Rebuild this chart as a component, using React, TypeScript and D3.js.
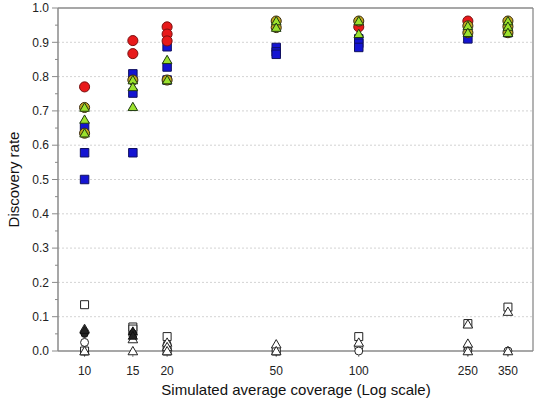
import React from "react";
import * as d3 from "d3";

const xTicks = [10, 15, 20, 50, 100, 250, 350];
const yTicks = [0, 0.1, 0.2, 0.3, 0.4, 0.5, 0.6, 0.7, 0.8, 0.9, 1.0];
const yMinorTicks = [0.05, 0.15, 0.25, 0.35, 0.45, 0.55, 0.65, 0.75, 0.85, 0.95];

// [coverage, discovery rate]
const blueSquares: [number, number][] = [
  [10, 0.655], [10, 0.578], [10, 0.5],
  [15, 0.808], [15, 0.752], [15, 0.578],
  [20, 0.887], [20, 0.828], [20, 0.79],
  [50, 0.885], [50, 0.872], [50, 0.865],
  [100, 0.91], [100, 0.897], [100, 0.885],
  [250, 0.91], [350, 0.928],
];
const redCircles: [number, number][] = [
  [10, 0.77],
  [15, 0.905], [15, 0.867],
  [20, 0.945], [20, 0.924], [20, 0.904],
  [100, 0.945],
  [250, 0.962],
];
const oliveCircles: [number, number][] = [
  [10, 0.71], [10, 0.635],
  [15, 0.79], [20, 0.79],
  [50, 0.962], [50, 0.943],
  [100, 0.962],
  [250, 0.948], [250, 0.928],
  [350, 0.962], [350, 0.946], [350, 0.928],
];
const greenTriangles: [number, number][] = [
  [10, 0.71], [10, 0.675], [10, 0.635],
  [15, 0.79], [15, 0.77], [15, 0.712],
  [20, 0.849], [20, 0.79],
  [50, 0.962], [50, 0.943],
  [100, 0.962], [100, 0.925],
  [250, 0.948], [250, 0.928],
  [350, 0.962], [350, 0.946], [350, 0.928],
];
const openSquares: [number, number][] = [
  [10, 0.135], [10, 0.0],
  [15, 0.07], [15, 0.064],
  [20, 0.042], [20, 0.0],
  [50, 0.0],
  [100, 0.042],
  [250, 0.08],
  [350, 0.128],
];
const openCircles: [number, number][] = [
  [10, 0.055], [10, 0.025], [10, 0.0],
  [15, 0.05], [15, 0.045],
  [20, 0.02], [20, 0.005],
  [50, 0.0],
  [100, 0.01], [100, 0.0],
  [250, 0.005], [250, 0.0],
  [350, 0.0],
];
const openTriangles: [number, number][] = [
  [10, 0.065], [10, 0.0],
  [15, 0.035], [15, 0.0],
  [20, 0.025], [20, 0.012], [20, 0.0],
  [50, 0.02], [50, 0.0],
  [100, 0.025],
  [250, 0.078], [250, 0.022], [250, 0.0],
  [350, 0.115], [350, 0.0],
];
const blackTriangles: [number, number][] = [
  [10, 0.062], [15, 0.058], [15, 0.045],
];
const blackCircles: [number, number][] = [
  [10, 0.05], [15, 0.052],
];

const W = 537;
const H = 400;
const left = 58;
const right = 533;
const top = 8;
const bottom = 351;

export default function App() {
  const x = d3.scaleLog().domain([8, 432]).range([left, right]);
  const y = d3.scaleLinear().domain([0, 1]).range([bottom, top]);

  const circleSym = (size: number) => d3.symbol(d3.symbolCircle, size)() as string;
  const squareSym = (size: number) => d3.symbol(d3.symbolSquare, size)() as string;
  const triSym = (size: number) => d3.symbol(d3.symbolTriangle, size)() as string;

  const font = "Arial, 'Liberation Sans', sans-serif";
  const axisColor = "#8a8a8a";

  const renderPts = (
    pts: [number, number][],
    d: string,
    fill: string,
    stroke: string,
    key: string,
    dy = 0
  ) =>
    pts.map((p, i) => (
      <path
        key={key + i}
        d={d}
        transform={`translate(${x(p[0])},${y(p[1]) + dy})`}
        fill={fill}
        stroke={stroke}
        strokeWidth={1}
      />
    ));

  return (
    <svg width={W} height={H} style={{ position: "absolute", left: 0, top: 0 }}>
      <rect x={0} y={0} width={W} height={H} fill="#fff" />
      {/* gridlines */}
      {yTicks
        .filter((t) => t > 0 && t < 1)
        .map((t) => (
          <line
            key={"g" + t}
            x1={left}
            x2={right}
            y1={y(t)}
            y2={y(t)}
            stroke="#c8c8c8"
            strokeWidth={0.8}
            strokeDasharray="2,2"
          />
        ))}
      {/* frame */}
      <line x1={left} x2={right} y1={top} y2={top} stroke={axisColor} strokeWidth={1.3} />
      <line x1={right} x2={right} y1={top} y2={bottom} stroke={axisColor} strokeWidth={1.3} />
      <line x1={left} x2={left} y1={top} y2={bottom} stroke={axisColor} strokeWidth={1.5} />
      <line x1={left} x2={right} y1={bottom} y2={bottom} stroke={axisColor} strokeWidth={1.5} />
      {/* y ticks */}
      {yTicks.map((t) => (
        <g key={"yt" + t}>
          <line x1={left - 6} x2={left} y1={y(t)} y2={y(t)} stroke={axisColor} strokeWidth={1} />
          <text
            x={left - 9}
            y={y(t)}
            dy="0.35em"
            textAnchor="end"
            fontFamily={font}
            fontSize={12}
            fill="#222"
          >
            {t.toFixed(1)}
          </text>
        </g>
      ))}
      {yMinorTicks.map((t) => (
        <line key={"ym" + t} x1={left - 3} x2={left} y1={y(t)} y2={y(t)} stroke={axisColor} strokeWidth={1} />
      ))}
      {/* x ticks */}
      {xTicks.map((t) => (
        <g key={"xt" + t}>
          <line x1={x(t)} x2={x(t)} y1={bottom} y2={bottom + 6} stroke={axisColor} strokeWidth={1} />
          <text
            x={x(t)}
            y={bottom + 20}
            dy="0.35em"
            textAnchor="middle"
            fontFamily={font}
            fontSize={12}
            fill="#222"
          >
            {t}
          </text>
        </g>
      ))}
      {/* axis titles */}
      <text
        x={296}
        y={390}
        dy="0.35em"
        textAnchor="middle"
        fontFamily={font}
        fontSize={15}
        fill="#111"
      >
        Simulated average coverage (Log scale)
      </text>
      <text
        transform={`translate(14,${(top + bottom) / 2}) rotate(-90)`}
        dy="0.35em"
        textAnchor="middle"
        fontFamily={font}
        fontSize={15}
        fill="#111"
      >
        Discovery rate
      </text>
      {/* bottom open markers */}
      {renderPts(openCircles, circleSym(50), "#fff", "#222", "oc")}
      {renderPts(openSquares, squareSym(64), "#fff", "#222", "os")}
      {renderPts(openTriangles, triSym(40), "#fff", "#222", "ot", 1)}
      {renderPts(blackCircles, circleSym(40), "#222", "#111", "bc")}
      {renderPts(blackTriangles, triSym(36), "#222", "#111", "bt", 1)}
      {/* top filled markers */}
      {renderPts(blueSquares, squareSym(72), "#1414d2", "#101060", "bs")}
      {renderPts(redCircles, circleSym(80), "#e8191a", "#7a1010", "rc")}
      {renderPts(oliveCircles, circleSym(80), "#c2a820", "#3a2a10", "yc")}
      {renderPts(greenTriangles, triSym(40), "#9be22e", "#1f3a10", "gt", 1)}
    </svg>
  );
}
